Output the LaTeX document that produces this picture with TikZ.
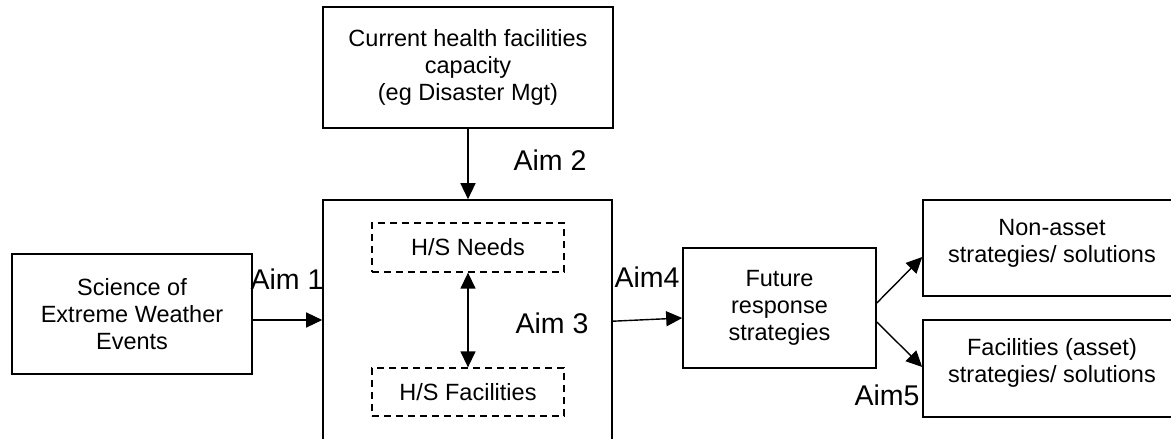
\documentclass[tikz,border=0pt]{standalone}
\usepackage{fontspec}
\setmainfont{Liberation Sans}
\usetikzlibrary{arrows.meta,calc}
\begin{document}
\begin{tikzpicture}[x=1pt,y=-1pt,
  box/.style={draw,line width=1.6pt,rectangle,inner sep=0pt,align=center,
    font=\fontsize{23.5}{27}\selectfont},
  dbox/.style={box,dashed,dash pattern=on 7pt off 5pt,line width=1.3pt},
  aim/.style={inner sep=0pt,font=\fontsize{28.5}{30}\selectfont},
  arr/.style={line width=1.4pt,-{Triangle[length=16pt,width=15pt]}},
  darr/.style={line width=1.4pt,{Triangle[length=16pt,width=15pt]}-{Triangle[length=16pt,width=15pt]}}]
\useasboundingbox (0,0) rectangle (1171,439);
\node[box,minimum width=290pt,minimum height=121pt] (top) at (468,67.5)
  {Current health facilities\\capacity\\(eg Disaster Mgt)};
\node[box,minimum width=289pt,minimum height=260pt] (main) at (467.5,330) {};
\node[dbox,minimum width=192pt,minimum height=49pt] (needs) at (468,247.5) {H/S Needs};
\node[dbox,minimum width=192pt,minimum height=48pt] (hsfac) at (468,392) {H/S Facilities};
\node[box,minimum width=240pt,minimum height=120pt] (left) at (132,314)
  {Science of\\Extreme Weather\\Events};
\node[box,minimum width=193pt,minimum height=120pt] (future) at (779.5,308)
  {Future\\response\\strategies};
\node[box,minimum width=258pt,minimum height=96pt] (nonasset) at (1052,248)
  {Non-asset\\strategies/ solutions\\[-20pt]\strut};
\node[box,minimum width=258pt,minimum height=97pt] (fac) at (1052,368.5)
  {Facilities (asset)\\strategies/ solutions\\[-20pt]\strut};
\node[aim] (aim1) at (287,279) {Aim 1};
\node[aim] (aim2) at (550,160) {Aim 2};
\node[aim] (aim3) at (552,323) {Aim 3};
\node[aim] (aim4) at (647,277) {Aim4};
\node[aim] (aim5) at (887,395) {Aim5};
\draw[arr] (top.south) -- (top.south |- main.north);
\coordinate (lout) at ($(left.east)+(0,6)$);
\draw[arr] (lout) -- (lout -| main.west);
\coordinate (mout) at ($(main.north east)+(0,122)$);
\draw[arr] (mout) -- ($(future.west)+(0,10)$);
\draw[arr] ($(future.east)+(0,-5)$) -- ($(nonasset.west)+(0,9)$);
\draw[arr] ($(future.east)+(0,14)$) -- ($(fac.west)+(0,-1.5)$);
\draw[darr] (needs.south) -- (hsfac.north);
\end{tikzpicture}
\end{document}
